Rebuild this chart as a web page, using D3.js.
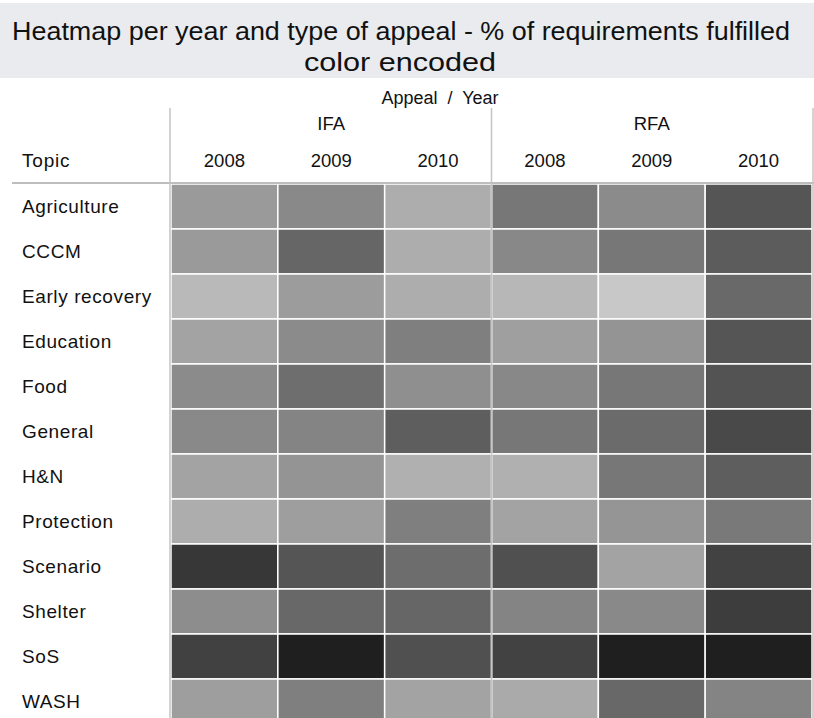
<!DOCTYPE html>
<html>
<head>
<meta charset="utf-8">
<script src="https://cdn.jsdelivr.net/npm/d3@7"></script>
<style>
  body { margin: 0; background: #fff; }
  svg text { font-family: "Liberation Sans", Arial, sans-serif; fill: #111; }
</style>
</head>
<body>
<div id="chart"></div>
<script>
// topics down the side, appeal/year across the top
var topics = ["Agriculture", "CCCM", "Early recovery", "Education", "Food", "General",
              "H&N", "Protection", "Scenario", "Shelter", "SoS", "WASH"]
var appeals = ["IFA", "RFA"]
var years = ["2008", "2009", "2010"]

// % of requirements fulfilled, one array per appeal, rows follow topics, columns follow years
var ifaValues = [
  [73, 63, 84],
  [73, 42, 84],
  [91, 74, 84],
  [78, 64, 57],
  [64, 47, 66],
  [63, 60, 37],
  [78, 69, 86],
  [84, 75, 57],
  [14, 32, 46],
  [65, 43, 42],
  [20, 0, 29],
  [75, 57, 78]
]
var rfaValues = [
  [52, 64, 32],
  [62, 52, 36],
  [90, 100, 44],
  [76, 69, 32],
  [62, 52, 31],
  [52, 45, 25],
  [86, 52, 37],
  [78, 70, 53],
  [29, 78, 21],
  [60, 63, 18],
  [21, 0, 0],
  [82, 43, 60]
]

var width = 814, height = 718

var svg = d3.select("#chart").append("svg")
    .attr("width", width)
    .attr("height", height)

// title band
svg.append("rect")
    .attr("x", 0).attr("y", 3)
    .attr("width", width).attr("height", 75)
    .attr("fill", "#e9ebee")

svg.append("text")
    .attr("x", 401).attr("y", 40)
    .attr("text-anchor", "middle")
    .style("font-size", "26px")
    .attr("textLength", 778)
    .attr("lengthAdjust", "spacingAndGlyphs")
    .text("Heatmap per year and type of appeal - % of requirements fulfilled")
svg.append("text")
    .attr("x", 400).attr("y", 71)
    .attr("text-anchor", "middle")
    .style("font-size", "26px")
    .attr("textLength", 192)
    .attr("lengthAdjust", "spacingAndGlyphs")
    .text("color encoded")

var gridLeft = 171, gridRight = 812, gridTop = 184, rowH = 45

var cols = []
appeals.forEach(function(a) {
  years.forEach(function(y) { cols.push(a + "|" + y) })
})

var x = d3.scaleBand().domain(cols).range([gridLeft, gridRight])
var xAppeal = d3.scaleBand().domain(appeals).range([gridLeft, gridRight])
var y = d3.scaleBand().domain(topics).range([gridTop, gridTop + rowH * topics.length])

var color = d3.scaleLinear().domain([0, 100]).range(["#1f1f1f", "#c8c8c8"])

// build cell table from the arrays
var cells = []
topics.forEach(function(t, i) {
  years.forEach(function(yr, j) {
    cells.push({topic: t, col: "IFA|" + yr, value: ifaValues[i][j]})
    cells.push({topic: t, col: "RFA|" + yr, value: rfaValues[i][j]})
  })
})

svg.append("g").selectAll("rect")
    .data(cells)
    .enter().append("rect")
    .attr("x", function(d) { return x(d.col) })
    .attr("y", function(d) { return y(d.topic) })
    .attr("width", x.bandwidth())
    .attr("height", y.bandwidth())
    .attr("fill", function(d) { return color(d.value) })
    .attr("stroke", "#fff")
    .attr("stroke-width", 1.5)

// header texts
svg.append("text")
    .attr("x", 440).attr("y", 104)
    .attr("text-anchor", "middle")
    .style("font-size", "18px")
    .attr("xml:space", "preserve")
    .text("Appeal  /  Year")

svg.append("g").selectAll("text")
    .data(appeals)
    .enter().append("text")
    .attr("x", function(d) { return xAppeal(d) + xAppeal.bandwidth() / 2 })
    .attr("y", 130)
    .attr("text-anchor", "middle")
    .style("font-size", "18.5px")
    .text(function(d) { return d })

svg.append("g").selectAll("text")
    .data(cols)
    .enter().append("text")
    .attr("x", function(d) { return x(d) + x.bandwidth() / 2 })
    .attr("y", 167)
    .attr("text-anchor", "middle")
    .style("font-size", "18.5px")
    .text(function(d) { return d.split("|")[1] })

svg.append("text")
    .attr("x", 22).attr("y", 167)
    .style("font-size", "19px")
    .style("letter-spacing", "0.8px")
    .text("Topic")

svg.append("g").selectAll("text")
    .data(topics)
    .enter().append("text")
    .attr("x", 22)
    .attr("y", function(d) { return y(d) + y.bandwidth() / 2 })
    .attr("dy", "0.35em")
    .style("font-size", "19px")
    .style("letter-spacing", "0.6px")
    .text(function(d) { return d })

// divider lines
svg.append("line")
    .attr("x1", 12).attr("x2", gridRight + 2)
    .attr("y1", 183).attr("y2", 183)
    .attr("stroke", "#bdbdbd").attr("stroke-width", 2)

var dividers = [gridLeft - 1, xAppeal("RFA"), gridRight + 1]
svg.append("g").selectAll("line")
    .data(dividers)
    .enter().append("line")
    .attr("x1", function(d) { return d })
    .attr("x2", function(d) { return d })
    .attr("y1", 108).attr("y2", height)
    .attr("stroke", "#c4c4c4").attr("stroke-width", 1.5)
</script>
</body>
</html>
